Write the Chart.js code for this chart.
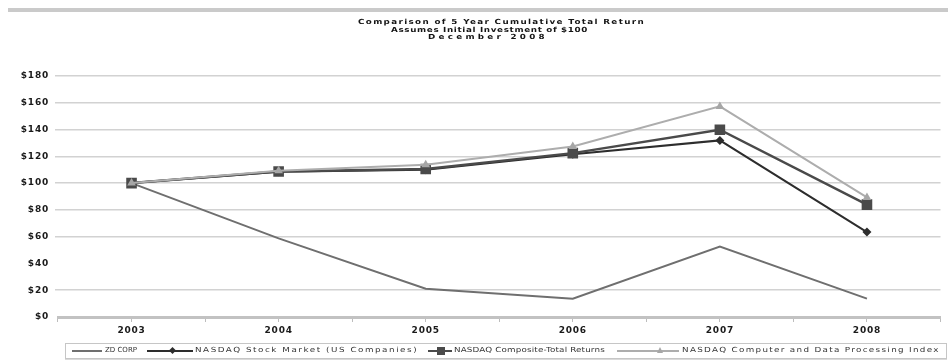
<!DOCTYPE html>
<html>
<head>
<meta charset="utf-8">
<title>Comparison of 5 Year Cumulative Total Return</title>
<script src="https://cdn.jsdelivr.net/npm/chart.js@4.4.1/dist/chart.umd.min.js"></script>
<style>
  html, body { margin: 0; padding: 0; background: #fff; }
  #wrap { position: relative; width: 948px; height: 360px; overflow: hidden;
          font-family: "DejaVu Sans", "Liberation Sans", Arial, sans-serif; }
  #chart { position: absolute; left: 0; top: 0; }
  .rule { position: absolute; left: 8px; top: 8px; width: 940px; height: 4px; background: #cacaca; }
  .txt { position: absolute; left: 0; top: 0; white-space: nowrap; line-height: 1; transform-origin: 0 50%; }
  .title { font-weight: bold; font-size: 7px; color: #141414; }
  .legtxt { font-size: 7px; color: #333; }
  #legendBox { position: absolute; left: 65px; top: 343px; width: 880px; height: 14px;
               border: 1px solid #c6c6c6; box-shadow: 0 2px 0 #dadada; background: #fff; }
  .legline { position: absolute; height: 2px; }
  .mk { position: absolute; }
</style>
</head>
<body>
<div id="wrap">
  <canvas id="chart" width="948" height="360"></canvas>
  <div class="rule"></div>
  <div id="legendBox"></div>
</div>
<script>
// Cumulative value of a $100 investment, December of each year
const years = ['2003', '2004', '2005', '2006', '2007', '2008'];
const zdCorp = [100, 58.7, 21.1, 13.7, 52.7, 13.7];
const nasdaqStockMarket = [100, 108.5, 110.0, 121.5, 131.9, 63.4];
const nasdaqComposite = [100, 108.7, 110.5, 122.4, 139.9, 83.9];
const nasdaqComputer = [100, 109.3, 113.7, 127.4, 157.3, 89.3];
const seriesNames = ['ZD CORP', 'NASDAQ Stock Market (US Companies)',
                     'NASDAQ Composite-Total Returns', 'NASDAQ Computer and Data Processing Index'];
const yTickValues = [0, 20, 40, 60, 80, 100, 120, 140, 160, 180];
const titleLines = ['Comparison of 5 Year Cumulative Total Return',
                    'Assumes Initial Investment of $100',
                    'December 2008'];

const FONT = 'DejaVu Sans';
const tickFont = { family: FONT, size: 9, weight: 'bold' };

// slightly opened lettering for the axis labels
const spacedText = {
  id: 'spacedText',
  beforeLayout(chart) { chart.ctx.letterSpacing = '0.8px'; },
  beforeDraw(chart) { chart.ctx.letterSpacing = '0.8px'; }
};

const chart = new Chart(document.getElementById('chart'), {
  type: 'line',
  data: {
    labels: years,
    datasets: [
      { label: seriesNames[0], data: zdCorp, borderColor: '#6f6f6f', backgroundColor: '#6f6f6f',
        borderWidth: 2, pointRadius: 0, order: 3 },
      { label: seriesNames[1], data: nasdaqStockMarket, borderColor: '#2d2d2d', backgroundColor: '#2d2d2d',
        borderWidth: 2, pointStyle: 'rectRot', pointRadius: 4.5, pointBorderWidth: 0, order: 2 },
      { label: seriesNames[2], data: nasdaqComposite, borderColor: '#4a4a4a', backgroundColor: '#4a4a4a',
        borderWidth: 2.5, pointStyle: 'rect', pointRadius: 7.5, pointBorderWidth: 0, order: 1 },
      { label: seriesNames[3], data: nasdaqComputer, borderColor: '#adadad', backgroundColor: '#a6a6a6',
        borderWidth: 2, pointStyle: 'triangle', pointRadius: 5, pointBorderWidth: 0, order: 0 }
    ]
  },
  options: {
    responsive: false,
    animation: false,
    devicePixelRatio: 1,
    layout: { padding: { top: 76, left: 0, right: 0, bottom: 0 } },
    plugins: { legend: { display: false }, title: { display: false }, tooltip: { enabled: false } },
    elements: { line: { tension: 0 } },
    scales: {
      x2: {
        type: 'category', labels: years, position: 'bottom', weight: -1, offset: true,
        grid: { drawOnChartArea: false, offset: true, tickLength: 5, color: '#bdbdbd', lineWidth: 1 },
        border: { display: false },
        ticks: { display: false },
        afterFit(s) { s.height = 0; }
      },
      x: {
        position: 'bottom', weight: 0, offset: true,
        grid: { drawOnChartArea: false, tickLength: 5, color: '#bdbdbd', lineWidth: 1 },
        border: { color: '#c2c2c2', width: 3 },
        ticks: { font: tickFont, color: '#1a1a1a', padding: 3, maxRotation: 0, autoSkip: false },
        afterFit(s) { s.height = 43; }
      },
      y: {
        min: 0, max: 180,
        afterBuildTicks(s) { s.ticks = yTickValues.map(v => ({ value: v })); },
        grid: {
          tickLength: 3, lineWidth: 1.5,
          color(ctx) { return (ctx.tick && (ctx.tick.value === 40 || ctx.tick.value === 0)) ? 'rgba(0,0,0,0)' : '#d2d2d2'; }
        },
        border: { display: false },
        ticks: { font: tickFont, color: '#1a1a1a', padding: 6, callback: v => '$' + v },
        afterFit(s) { s.width = 58; }
      }
    }
  },
  plugins: [spacedText]
});

// wide text placement: fill the span between two x positions around a y centre,
// partly by a mild horizontal stretch and the rest by letter spacing
const wrap = document.getElementById('wrap');
function placeText(cls, text, x0, x1, yc) {
  const el = document.createElement('div');
  el.className = 'txt ' + cls;
  el.textContent = text;
  wrap.appendChild(el);
  const r = el.getBoundingClientRect();
  const target = x1 - x0;
  const sx = Math.min(1.25, target / r.width);
  const spacing = (target / sx - r.width) / text.length;
  el.style.letterSpacing = spacing.toFixed(2) + 'px';
  el.style.left = x0 + 'px';
  el.style.top = (yc - r.height / 2) + 'px';
  el.style.transform = 'scaleX(' + sx.toFixed(3) + ')';
  return el;
}

// chart heading
const titleGeom = [{ cx: 501, w: 287, y: 22.5 }, { cx: 489, w: 197, y: 30 }, { cx: 488, w: 120, y: 37.5 }];
titleLines.forEach((t, i) => {
  const g = titleGeom[i];
  placeText('title', t, g.cx - g.w / 2, g.cx + g.w / 2, g.y);
});

// legend built from the chart's datasets
const legendGeom = [
  { l0: 72, l1: 102, m: null, t0: 105, t1: 137 },
  { l0: 147, l1: 193, m: 172, t0: 195, t1: 418 },
  { l0: 428, l1: 452, m: 441, t0: 454, t1: 605 },
  { l0: 617, l1: 679, m: 660, t0: 682, t1: 940 }
];
const legendY = 350.5;
chart.data.datasets.forEach((ds, i) => {
  const g = legendGeom[i];
  const line = document.createElement('div');
  line.className = 'legline';
  line.style.left = g.l0 + 'px';
  line.style.width = (g.l1 - g.l0) + 'px';
  line.style.top = (legendY - 1) + 'px';
  line.style.background = ds.borderColor;
  wrap.appendChild(line);
  if (g.m !== null) {
    const mk = document.createElement('div');
    mk.className = 'mk';
    if (ds.pointStyle === 'rectRot') {
      Object.assign(mk.style, { width: '5px', height: '5px', left: (g.m - 2.5) + 'px', top: (legendY - 2.5) + 'px',
        background: ds.backgroundColor, transform: 'rotate(45deg)' });
    } else if (ds.pointStyle === 'rect') {
      Object.assign(mk.style, { width: '8px', height: '8px', left: (g.m - 4) + 'px', top: (legendY - 4) + 'px',
        background: ds.backgroundColor });
    } else {
      Object.assign(mk.style, { width: '0', height: '0', left: (g.m - 3.5) + 'px', top: (legendY - 4) + 'px',
        borderLeft: '3.5px solid transparent', borderRight: '3.5px solid transparent',
        borderBottom: '6px solid ' + ds.backgroundColor });
    }
    wrap.appendChild(mk);
  }
  placeText('legtxt', ds.label, g.t0, g.t1, legendY);
});
</script>
</body>
</html>
